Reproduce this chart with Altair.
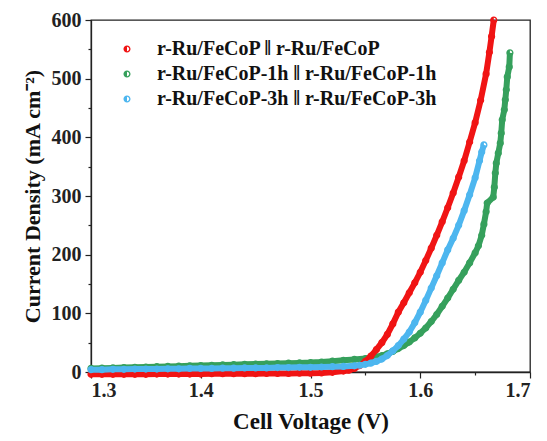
import altair as alt
import pandas as pd

SERIES = [
    "r-Ru/FeCoP ‖ r-Ru/FeCoP",
    "r-Ru/FeCoP-1h ‖ r-Ru/FeCoP-1h",
    "r-Ru/FeCoP-3h ‖ r-Ru/FeCoP-3h",
]
COLORS = ["#f01414", "#36a05c", "#4db6ef"]

# Polarization data: cell voltage (V) and current density (mA cm^-2)
red_v = [1.30, 1.31, 1.32, 1.33, 1.34, 1.35, 1.36, 1.37, 1.38, 1.39, 1.40, 1.41,
         1.42, 1.43, 1.44, 1.45, 1.46, 1.47, 1.48, 1.49, 1.50, 1.51, 1.52, 1.53,
         1.535, 1.54, 1.545, 1.55, 1.555, 1.56, 1.565, 1.57, 1.575, 1.58, 1.585,
         1.59, 1.595, 1.60, 1.605, 1.61, 1.615, 1.62, 1.625, 1.63, 1.635, 1.64,
         1.645, 1.65, 1.655, 1.66, 1.663, 1.665, 1.667]
red_j = [-4, -4, -4, -4, -4, -4, -3.5, -3.5, -3.5, -3.5, -3.5, -3,
         -3, -3, -3, -3, -2.5, -2.5, -2.5, -2, -2, -1.5, -0.5, 1.5,
         3, 6, 11, 18, 27, 38, 50, 64, 82, 102, 118,
         135, 152, 170, 190, 211, 233, 256, 280, 305, 332, 360,
         392, 425, 463, 508, 545, 572, 600]

green_v = [1.30, 1.31, 1.32, 1.33, 1.34, 1.35, 1.36, 1.37, 1.38, 1.39, 1.40, 1.41,
           1.42, 1.43, 1.44, 1.45, 1.46, 1.47, 1.48, 1.49, 1.50, 1.51, 1.52, 1.53,
           1.54, 1.55, 1.555, 1.56, 1.565, 1.57, 1.575, 1.58, 1.585, 1.59, 1.595,
           1.60, 1.605, 1.61, 1.615, 1.62, 1.625, 1.63, 1.635, 1.64, 1.645, 1.65,
           1.653, 1.656, 1.658, 1.66, 1.661, 1.6665, 1.6675, 1.6684, 1.6693, 1.6711,
           1.6729, 1.6738, 1.6747, 1.6766, 1.6775, 1.6784, 1.6793, 1.6811, 1.6817]
green_j = [6, 6.5, 7, 7.5, 8, 8.5, 9, 9.5, 10, 10.5, 11, 11.5,
           12, 12.5, 13, 13.5, 14, 14.5, 15, 15.5, 16, 17, 18.5, 20,
           21.5, 23, 24.5, 26, 28, 31, 35, 40, 45, 51, 58,
           66, 75, 86, 98, 112, 126, 141, 156, 170, 186, 203,
           215, 233, 252, 273, 288, 298, 315, 339, 356, 373,
           390, 407, 430, 447, 464, 481, 503, 520, 544]

blue_v = [1.30, 1.31, 1.32, 1.33, 1.34, 1.35, 1.36, 1.37, 1.38, 1.39, 1.40, 1.41,
          1.42, 1.43, 1.44, 1.45, 1.46, 1.47, 1.48, 1.49, 1.50, 1.51, 1.52, 1.53,
          1.54, 1.545, 1.55, 1.555, 1.56, 1.565, 1.57, 1.575, 1.58, 1.585, 1.59,
          1.595, 1.60, 1.605, 1.61, 1.615, 1.62, 1.625, 1.63, 1.635, 1.64, 1.645,
          1.65, 1.654, 1.656, 1.658]
blue_j = [4, 4, 4.5, 4.5, 5, 5, 5, 5.5, 5.5, 6, 6, 6,
          6.5, 6.5, 7, 7, 7, 7.5, 7.5, 8, 8, 8.5, 9, 9.5,
          10.5, 11.5, 13, 15, 18, 22, 28, 36, 45, 56, 68,
          84, 102, 122, 143, 164, 186, 208, 228, 250, 275, 302,
          331, 360, 375, 387]

x_ticks = [1.30, 1.35, 1.40, 1.45, 1.50, 1.55, 1.60, 1.65, 1.70]
y_ticks = [0, 50, 100, 150, 200, 250, 300, 350, 400, 450, 500, 550, 600]

rows = []
for name, vs, js in [(SERIES[0], red_v, red_j), (SERIES[1], green_v, green_j), (SERIES[2], blue_v, blue_j)]:
    for i, (v, j) in enumerate(zip(vs, js)):
        rows.append({"series": name, "idx": i, "v": v, "j": j})
df = pd.DataFrame(rows)

# half-filled circle: full disk with the right half of its interior cut out
HALF_CIRCLE = ("M-1,0A1,1,0,1,1,1,0A1,1,0,1,1,-1,0Z "
               "M0,0.62A0.62,0.62,0,0,0,0,-0.62Z")

x_enc = alt.X(
    "v:Q",
    scale=alt.Scale(domain=[1.3, 1.7], nice=False, zero=False),
    axis=alt.Axis(
        values=x_ticks,
        title="Cell Voltage (V)",
        tickSize={"condition": {"test": "round(datum.value*20) % 2 === 0", "value": 6}, "value": 3},
        labelExpr="round(datum.value*20) % 2 === 0 ? format(datum.value, '.1f') : ''",
        labelPadding=2,
        titlePadding=10,
        titleFontSize=23,
    ),
)
y_enc = alt.Y(
    "j:Q",
    scale=alt.Scale(domain=[0, 600], nice=False),
    axis=alt.Axis(
        values=y_ticks,
        title="Current Density (mA cm⁻²)",
        tickSize={"condition": {"test": "datum.value % 100 === 0", "value": 6}, "value": 3},
        labelExpr="datum.value % 100 === 0 ? datum.label : ''",
        labelPadding=4,
        titlePadding=7,
        titleFontSize=22,
    ),
)
color_enc = alt.Color(
    "series:N",
    scale=alt.Scale(domain=SERIES, range=COLORS),
    legend=alt.Legend(
        title=None,
        orient="none",
        legendX=26,
        legendY=19,
        symbolType=HALF_CIRCLE,
        symbolSize=50,
        symbolStrokeWidth=0,
        labelFont="Liberation Serif",
        labelFontWeight="bold",
        labelFontSize=20,
        labelColor="#111",
        labelOffset=20,
        labelLimit=400,
        rowPadding=5,
    ),
)

layers = []
# draw order: green, red, blue (blue ends up on top)
for k in [1, 0, 2]:
    name = SERIES[k]
    base = alt.Chart(df).transform_filter(alt.datum.series == name)
    layers.append(
        base.mark_line(color=COLORS[k], strokeWidth=6).encode(x=x_enc, y=y_enc, order="idx:Q")
    )
    layers.append(
        base.mark_point(shape=HALF_CIRCLE, filled=True, size=52, strokeWidth=0, opacity=1).encode(
            x=x_enc, y=y_enc, color=color_enc
        )
    )

chart = (
    alt.layer(*layers)
    .properties(
        width=439,
        height=352,
        autosize=alt.AutoSizeParams(type="none"),
        padding={"left": 91, "top": 20, "right": 17, "bottom": 69},
        background="white",
    )
    .configure_view(stroke="#222", strokeWidth=1.3)
    .configure_axis(
        grid=False,
        domainColor="#222",
        domainWidth=1.3,
        tickColor="#222",
        tickWidth=1.2,
        labelFont="Liberation Serif",
        labelFontWeight="bold",
        labelFontSize=20,
        labelColor="#222",
        titleFont="Liberation Serif",
        titleFontWeight="bold",
        titleColor="#111",
    )
)

chart.save("out.html", embed_options={"renderer": "svg", "actions": False})
